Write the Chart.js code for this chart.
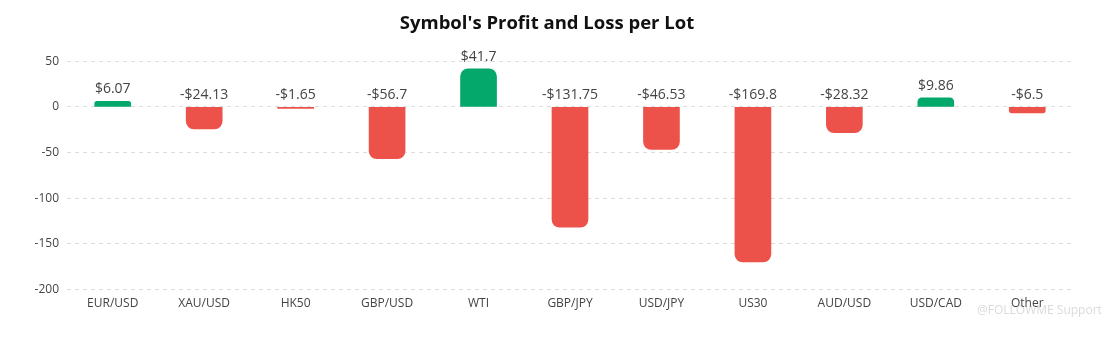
<!DOCTYPE html>
<html>
<head>
<meta charset="utf-8">
<script src="https://cdn.jsdelivr.net/npm/chart.js@4.4.1/dist/chart.umd.min.js"></script>
<style>
  html, body { margin: 0; padding: 0; background: #fff; }
  #wrap { width: 1118px; height: 338px; position: relative; }
</style>
</head>
<body>
<div id="wrap"><canvas id="chart"></canvas></div>
<script>
const symbols = ['EUR/USD', 'XAU/USD', 'HK50', 'GBP/USD', 'WTI', 'GBP/JPY', 'USD/JPY', 'US30', 'AUD/USD', 'USD/CAD', 'Other'];
const profitPerLot = [6.07, -24.13, -1.65, -56.7, 41.7, -131.75, -46.53, -169.8, -28.32, 9.86, -6.5];
const yTicks = [50, 0, -50, -100, -150, -200];

const GAIN = '#04a86b';
const LOSS = '#ec524a';
const FONT = "'Segoe UI', 'Open Sans', 'Noto Sans', sans-serif";

// Value labels sit above each bar's upper end (the zero line for losses)
const valueLabels = {
  id: 'valueLabels',
  afterDatasetsDraw(chart) {
    const { ctx } = chart;
    const meta = chart.getDatasetMeta(0);
    const zeroY = chart.scales.y.getPixelForValue(0);
    ctx.save();
    ctx.font = '14px ' + FONT;
    ctx.fillStyle = '#444';
    ctx.textAlign = 'center';
    ctx.textBaseline = 'bottom';
    meta.data.forEach((bar, i) => {
      const v = profitPerLot[i];
      const text = (v < 0 ? '-$' : '$') + Math.abs(v);
      const top = Math.min(bar.y, zeroY);
      ctx.fillText(text, bar.x, top - 5);
    });
    ctx.restore();
  }
};

// Faint source mark in the lower right corner
const sourceMark = {
  id: 'sourceMark',
  afterDraw(chart) {
    const { ctx } = chart;
    ctx.save();
    ctx.font = '12px ' + FONT;
    ctx.fillStyle = 'rgba(150,150,150,0.35)';
    ctx.textAlign = 'left';
    ctx.textBaseline = 'middle';
    ctx.fillText('@FOLLOWME Support', 977, 311);
    ctx.restore();
  }
};

new Chart(document.getElementById('chart'), {
  type: 'bar',
  data: {
    labels: symbols,
    datasets: [{
      data: profitPerLot,
      backgroundColor: profitPerLot.map(v => v >= 0 ? GAIN : LOSS),
      borderRadius: 8,
      borderSkipped: 'start',
      barThickness: 36
    }]
  },
  options: {
    responsive: true,
    maintainAspectRatio: false,
    animation: false,
    layout: { padding: { left: 21, right: 45, top: 0, bottom: 20 } },
    plugins: {
      legend: { display: false },
      tooltip: { enabled: false },
      title: {
        display: true,
        text: "Symbol's Profit and Loss per Lot",
        color: '#111',
        font: { family: FONT, size: 18.5, weight: 'bold' },
        padding: { top: 13, bottom: 26 }
      }
    },
    scales: {
      x: {
        grid: { display: false, drawTicks: false },
        border: { display: false },
        ticks: { color: '#444', font: { family: FONT, size: 12 }, padding: 7 }
      },
      y: {
        min: -200,
        max: 50,
        afterBuildTicks(scale) { scale.ticks = yTicks.map(v => ({ value: v })); },
        afterFit(scale) { scale.width = 46; },
        grid: { color: '#dcdcdc', drawTicks: false },
        border: { display: false, dash: [4, 4] },
        ticks: { color: '#444', font: { family: FONT, size: 12 }, padding: 8 }
      }
    }
  },
  plugins: [valueLabels, sourceMark]
});
</script>
</body>
</html>
